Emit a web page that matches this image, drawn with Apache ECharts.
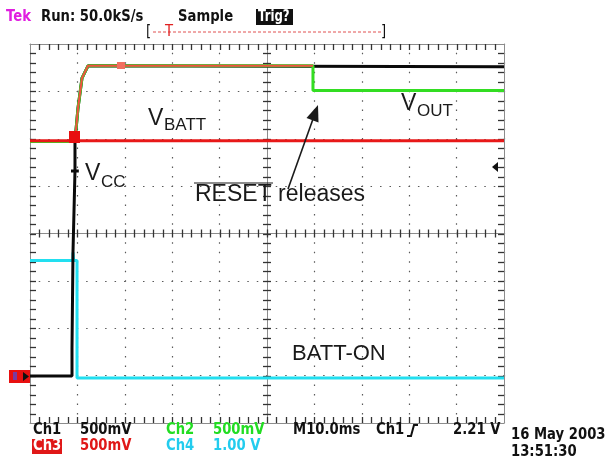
<!DOCTYPE html>
<html><head><meta charset="utf-8">
<script src="https://cdn.jsdelivr.net/npm/echarts@6/dist/echarts.min.js"></script>
<style>html,body{margin:0;padding:0;background:#fff}#c{width:610px;height:459px}</style>
</head><body><div id="c"></div>
<script>
// Horizontal: time in ms (M10.0ms per division, 10 divisions)
// Vertical: screen divisions (8 divisions, centre line = 0)
const timeMin = 0, timeMax = 100, timeDiv = 10;
const divMin = -4, divMax = 4, divStep = 1;
const minorPerDiv = 5;

// Ch1 (black, VCC)
const ch1Time = [0, 8.86, 8.86, 9.07, 9.07, 9.49, 8.65, 10.30, 9.49, 9.49, 10.13, 10.97, 12.24, 100];
const ch1Div  = [-3.01, -3.01, -2.43, -2.43, -0.40, 1.32, 1.32, 1.32, 1.32, 1.96, 2.65, 3.28, 3.54, 3.52];
// Ch2 (green, VOUT)
const ch2Time = [0, 9.49, 10.13, 10.97, 12.24, 59.7, 59.7, 100];
const ch2Div  = [1.94, 1.94, 2.65, 3.28, 3.54, 3.54, 3.02, 3.02];
// Ch3 (red, VBATT)
const ch3Time = [0, 100];
const ch3Div  = [1.96, 1.96];
// red overlay seen on the rising edge / top level
const ch3TopTime = [9.49, 10.13, 10.97, 12.24, 59.7];
const ch3TopDiv  = [1.96, 2.65, 3.28, 3.54, 3.54];
// Ch4 (cyan, BATT-ON)
const ch4Time = [0, 9.07, 9.07, 9.20, 9.20, 9.92, 9.92, 100];
const ch4Div  = [-0.57, -0.57, -0.40, -0.40, -0.57, -0.57, -3.05, -3.05];

// readout texts
const headerTexts = ['Tek', 'Run: 50.0kS/s', 'Sample', 'Trig?'];
const row1Texts = ['Ch1', '500mV', 'Ch2', '500mV', 'M10.0ms', 'Ch1', '2.21 V'];
const row2Texts = ['Ch3', '500mV', 'Ch4', '1.00 V'];
const dateTexts = ['16 May 2003', '13:51:30'];
const traceLabels = ['BATT-ON', 'RESET releases'];

const zip = (a, b) => a.map((v, i) => [v, b[i]]);

const GRID = {left: 30, top: 44, right: 106, bottom: 36};
const gW = 610 - GRID.left - GRID.right, gH = 459 - GRID.top - GRID.bottom;

const frameColor = '#8c8c8c';
const tickColor = '#333';
const dotStyle = {color: '#5a5a5a', width: 1.2, type: [1.5, 7.98], dashOffset: 0.75};
function xAx(pos, offset, split) {
  return {type: 'value', min: timeMin, max: timeMax, interval: timeDiv, position: pos, offset: offset,
    axisLine: {show: true, onZero: false, lineStyle: {color: frameColor, width: 1}},
    axisTick: {show: false}, axisLabel: {show: false},
    splitLine: {show: split, lineStyle: dotStyle}, minorSplitLine: {show: false}};
}
function yAx(pos, offset, split) {
  return {type: 'value', min: divMin, max: divMax, interval: divStep, position: pos, offset: offset,
    axisLine: {show: true, onZero: false, lineStyle: {color: frameColor, width: 1}},
    axisTick: {show: false}, axisLabel: {show: false},
    splitLine: {show: split, lineStyle: dotStyle}, minorSplitLine: {show: false}};
}

const SF = '"DejaVu Sans", sans-serif';
const LF = '"Liberation Sans", Arial, sans-serif';
function st(x, y, s, color, opts) {
  opts = opts || {};
  const size = opts.size || 15;
  return {type: 'text', x: x, y: y, scaleX: opts.sx || 0.88, silent: true, z: 100,
    style: {text: s, fill: color, font: (opts.weight || 'bold') + ' ' + size + 'px ' + SF,
      align: 'left', verticalAlign: 'middle', textAlign: 'left', textVerticalAlign: 'middle'}};
}
function lt(x, y, s, size) {
  return {type: 'text', x: x, y: y, silent: true, z: 100,
    style: {text: s, fill: '#1a1a1a', font: size + 'px ' + LF,
      align: 'left', verticalAlign: 'middle', textAlign: 'left', textVerticalAlign: 'middle'}};
}

const graphics = [
  // header
  st(6, 17, headerTexts[0], '#e01ee0'),
  st(41, 17, headerTexts[1], '#111'),
  st(178, 17, headerTexts[2], '#111'),
  {type: 'rect', shape: {x: 256, y: 9, width: 37, height: 16}, style: {fill: '#111'}, z: 99},
  st(258, 17, headerTexts[3], '#fff', {sx: 0.78}),
  // record bracket
  st(146, 32, '[', '#111', {weight: 'normal'}),
  {type: 'line', shape: {x1: 153, y1: 32, x2: 381, y2: 32}, style: {stroke: '#e05050', lineWidth: 1, lineDash: [3, 2]}, z: 99},
  st(165, 32, 'T', '#e02020', {weight: 'normal'}),
  st(381, 32, ']', '#111', {weight: 'normal'}),
  // bottom readouts
  st(33, 430, row1Texts[0], '#111'),
  st(80, 430, row1Texts[1], '#111'),
  st(166, 430, row1Texts[2], '#22dd22'),
  st(213, 430, row1Texts[3], '#22dd22'),
  st(293, 430, row1Texts[4], '#111'),
  st(376, 430, row1Texts[5], '#111'),
  {type: 'polyline', shape: {points: [[407, 436], [411, 436], [414, 425], [418, 425]]}, style: {stroke: '#111', lineWidth: 2, fill: null}, z: 100},
  st(453, 430, row1Texts[6], '#111'),
  {type: 'rect', shape: {x: 32, y: 439, width: 30, height: 15}, style: {fill: '#e01818'}, z: 99},
  st(33, 446, row2Texts[0], '#fff'),
  st(80, 446, row2Texts[1], '#e01818'),
  st(166, 446, row2Texts[2], '#22ccee'),
  st(213, 446, row2Texts[3], '#22ccee'),
  st(511, 435, dateTexts[0], '#111'),
  st(511, 452, dateTexts[1], '#111'),
  // markers
  {type: 'rect', shape: {x: 9, y: 370, width: 21, height: 13}, style: {fill: '#e81010'}, z: 99},
  {type: 'polygon', shape: {points: [[23, 372], [29, 376.5], [23, 381]]}, style: {fill: '#111'}, z: 100},
  {type: 'rect', shape: {x: 13, y: 372, width: 4, height: 8}, style: {fill: '#7a3aa0'}, z: 100},
  {type: 'polygon', shape: {points: [[498, 162], [492, 167], [498, 172]]}, style: {fill: '#111'}, z: 100},
  {type: 'rect', shape: {x: 69, y: 131, width: 11, height: 12}, style: {fill: '#e81010'}, z: 98},
  {type: 'rect', shape: {x: 117, y: 62, width: 8, height: 7}, style: {fill: '#f07060'}, z: 98},
  // trace labels
  lt(148, 119, 'V', 23), lt(164, 125, 'BATT', 17),
  lt(85, 174, 'V', 23), lt(101, 182, 'CC', 17),
  lt(401, 104, 'V', 23), lt(417, 111, 'OUT', 17),
  lt(195, 195, traceLabels[1], 23),
  {type: 'line', shape: {x1: 194, y1: 183, x2: 273, y2: 183}, style: {stroke: '#1a1a1a', lineWidth: 1.2}, z: 100},
  lt(292, 354, traceLabels[0], 22),
  // arrow
  {type: 'line', shape: {x1: 288, y1: 189, x2: 313, y2: 119}, style: {stroke: '#1a1a1a', lineWidth: 1.6}, z: 100},
  {type: 'polygon', shape: {points: [[318, 105], [318.5, 122.5], [306.5, 118]]}, style: {fill: '#1a1a1a'}, z: 100}
];

// graticule minor-tick positions (1/5 division)
const tStep = timeDiv / minorPerDiv, vStep = divStep / minorPerDiv;
const xTickPos = [], yTickPos = [];
for (let i = 1; i < (timeMax - timeMin) / tStep; i++) xTickPos.push([timeMin + i * tStep, 0, 0]);
for (let j = 1; j < (divMax - divMin) / vStep; j++) yTickPos.push([timeMin, divMin + j * vStep, 1]);
const tickLine = (x1, y1, x2, y2) => ({type: 'line', shape: {x1: x1, y1: y1, x2: x2, y2: y2},
  style: {stroke: tickColor, lineWidth: 1.3}});
function renderTick(params, api) {
  const isY = api.value(2) === 1;
  if (!isY) {
    const t = api.value(0);
    const top = api.coord([t, divMax]), bot = api.coord([t, divMin]), mid = api.coord([t, 0]);
    const x = Math.round(top[0]) + 0.5;
    return {type: 'group', children: [tickLine(x, top[1], x, top[1] + 6), tickLine(x, bot[1], x, bot[1] - 6),
      tickLine(x, mid[1] - 4, x, mid[1] + 4)]};
  }
  const v = api.value(1);
  const l = api.coord([timeMin, v]), r = api.coord([timeMax, v]), m = api.coord([(timeMin + timeMax) / 2, v]);
  const y = Math.round(l[1]) + 0.5;
  return {type: 'group', children: [tickLine(l[0], y, l[0] + 6, y), tickLine(r[0], y, r[0] - 6, y),
    tickLine(m[0] - 4, y, m[0] + 4, y)]};
}

const chart = echarts.init(document.getElementById('c'), null, {renderer: 'canvas'});
const lineS = (data, color, w, z) => ({type: 'line', data: data, showSymbol: false, symbol: 'none', z: z,
  lineStyle: {color: color, width: w}, itemStyle: {color: color}, animation: false, silent: true});
chart.setOption({
  animation: false,
  backgroundColor: '#fff',
  grid: {left: GRID.left, top: GRID.top, right: GRID.right, bottom: GRID.bottom, containLabel: false},
  xAxis: [xAx('bottom', 0, true), xAx('top', 0, false), xAx('bottom', -gH / 2, false)],
  yAxis: [yAx('left', 0, true), yAx('right', 0, false), yAx('left', -gW / 2, false)],
  series: [
    {type: 'custom', data: xTickPos.concat(yTickPos), renderItem: renderTick, silent: true, z: 1,
      clip: false, encode: {x: 0, y: 1}, animation: false},
    lineS(zip(ch4Time, ch4Div), '#22dff0', 3, 2),
    lineS(zip(ch1Time, ch1Div), '#0a0a0a', 3, 3),
    lineS(zip(ch2Time, ch2Div), '#33dd22', 3, 4),
    lineS(zip(ch3Time, ch3Div), '#e81818', 3, 5),
    lineS(zip(ch3TopTime, ch3TopDiv), '#f05040', 2, 6)
  ],
  graphic: graphics
});
</script></body></html>
